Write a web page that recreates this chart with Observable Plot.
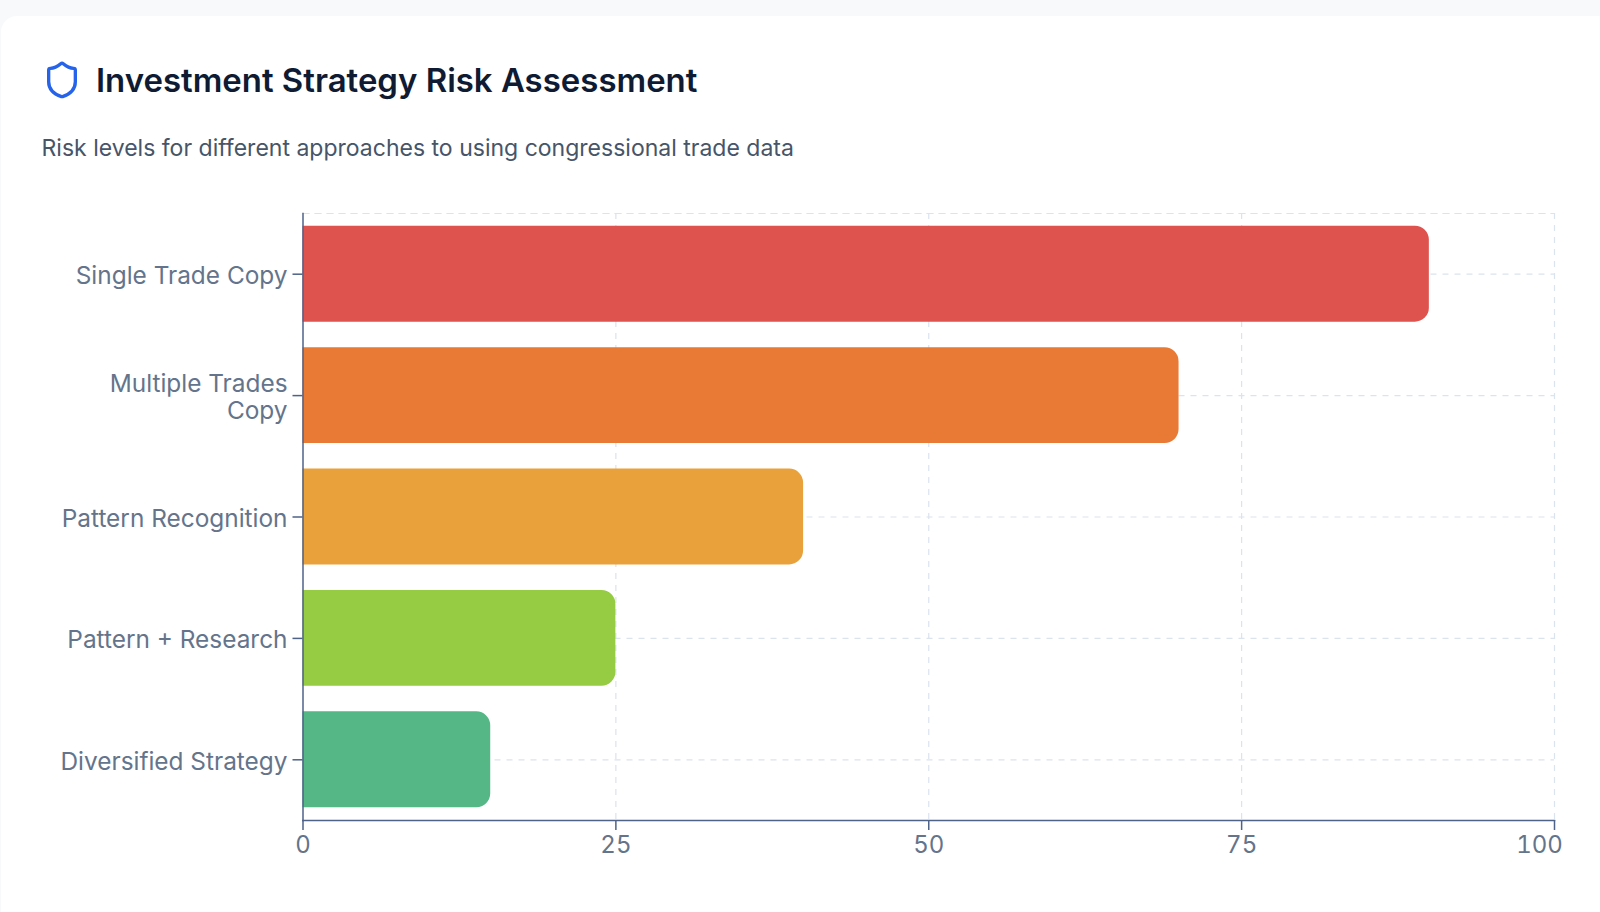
<!DOCTYPE html>
<html><head><meta charset="utf-8">
<script src="https://cdn.jsdelivr.net/npm/d3@7"></script>
<script src="https://cdn.jsdelivr.net/npm/@observablehq/plot@0.6"></script>
<style>
html,body{margin:0;padding:0;width:1600px;height:912px;overflow:hidden;background:#f8f9fb;font-family:Inter,sans-serif}
#card{position:absolute;left:1px;top:16px;width:1620px;height:940px;background:#fff;border-radius:16px}
#head{position:absolute;left:0;top:0;width:1600px;height:190px}
#head svg{position:absolute;left:42px;top:60px}
#title{position:absolute;left:96px;top:58px;font-size:32.95px;line-height:45px;font-weight:600;color:#0f1b33;white-space:nowrap}
#sub{position:absolute;left:41.5px;top:130px;font-size:23.03px;line-height:36px;color:#475569;white-space:nowrap}
#chart{position:absolute;left:0;top:190px}
#chart svg{display:block;background:transparent;overflow:visible}
</style></head><body>
<div id="card"></div>
<div id="head">
<svg width="40" height="40" viewBox="0 0 24 24" fill="none" stroke="#2563eb" stroke-width="2" stroke-linecap="round" stroke-linejoin="round"><path d="M20 13c0 5-3.5 7.5-7.66 8.95a1 1 0 0 1-.67-.01C7.5 20.5 4 18 4 13V6a1 1 0 0 1 1-1c2 0 4.5-1.2 6.24-2.72a1.17 1.17 0 0 1 1.52 0C14.51 3.81 17 5 19 5a1 1 0 0 1 1 1z"/></svg>
<div id="title">Investment Strategy Risk Assessment</div>
<div id="sub">Risk levels for different approaches to using congressional trade data</div>
</div>
<div id="chart"></div>
<script>
const categories = ["Single Trade Copy","Multiple Trades Copy","Pattern Recognition","Pattern + Research","Diversified Strategy"];
const tickLabels = ["Single Trade Copy","Multiple Trades\nCopy","Pattern Recognition","Pattern + Research","Diversified Strategy"];
const riskValues = [90,70,40,25,15];
const barColors = ["#de534e","#e97a35","#e9a23b","#95cc44","#55b785"];
const xTicks = [0,25,50,75,100];
const rows = categories.map((c,i)=>({category:c,risk:riskValues[i]}));
const gridStyle = {stroke:"#dbe3ee",strokeOpacity:1,strokeWidth:1.2,strokeDasharray:"6 6"};
const axisColor = "#4f6288";
const plot = Plot.plot({
  width:1600,height:700,
  marginLeft:302.5,marginRight:46,marginTop:23,marginBottom:70,
  style:{fontFamily:"Inter, sans-serif",fontSize:"24px",color:"#64748b",background:"transparent"},
  x:{domain:[0,100],label:null},
  y:{domain:categories,label:null,paddingInner:0.21,paddingOuter:0.105,round:false},
  color:{domain:categories,range:barColors},
  marks:[
    Plot.gridX({ticks:xTicks.slice(1),...gridStyle}),
    Plot.gridY({...gridStyle}),
    Plot.frame({anchor:"top",...gridStyle}),
    Plot.barX(rows,{x:"risk",y:"category",fill:"category",rx2:14}),
    Plot.frame({anchor:"left",stroke:axisColor,strokeWidth:1.5}),
    Plot.frame({anchor:"bottom",stroke:axisColor,strokeWidth:1.5}),
    Plot.axisX({ticks:xTicks,tickSize:10,text:null,fill:"none",stroke:axisColor,strokeWidth:1.5,label:null}),
    Plot.axisX({ticks:xTicks.slice(0,4),tickSize:0,tickPadding:15,label:null,fill:"#64748b",fontSize:24,tickFormat:d=>String(d)}),
    Plot.axisX({ticks:xTicks.slice(4),tickSize:0,tickPadding:15,dx:-15,label:null,fill:"#64748b",fontSize:24,tickFormat:d=>String(d)}),
    Plot.axisY({tickSize:10,text:null,fill:"none",stroke:axisColor,strokeWidth:1.5,label:null}),
    Plot.axisY({tickSize:0,tickPadding:15.5,dy:1.5,label:null,fill:"#64748b",fontSize:24.4,lineHeight:1.1,tickFormat:d=>tickLabels[categories.indexOf(d)]})
  ]
});
document.getElementById("chart").append(plot);
</script>
</body></html>
